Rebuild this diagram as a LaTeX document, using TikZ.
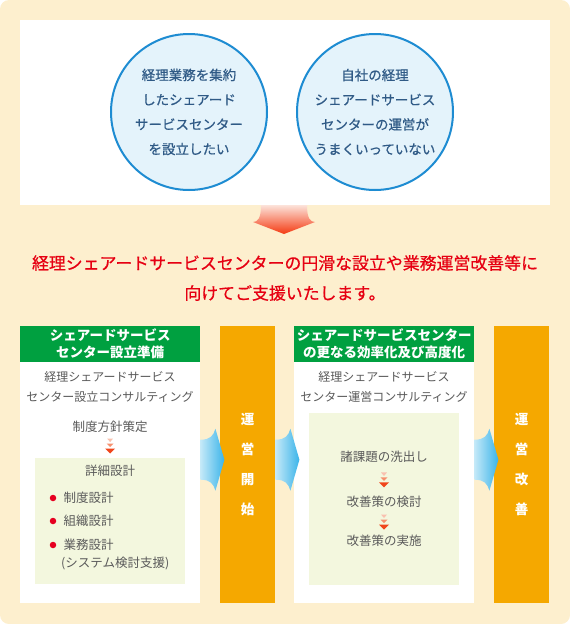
\documentclass[tikz,border=0pt]{standalone}
\usepackage{fontspec}
\setmainfont{Noto Sans CJK JP}
\newfontfamily\jpmid[FakeBold=0.6]{Noto Sans CJK JP}
\usepackage{tikz}
\usetikzlibrary{positioning,calc}
\usepackage{xcolor}
\definecolor{bgbeige}{HTML}{FDEFCE}
\definecolor{bubbleblue}{HTML}{1E8CD2}
\definecolor{bubblefill}{HTML}{E4F3FB}
\definecolor{bubbletext}{HTML}{2F5A86}
\definecolor{goalred}{HTML}{E60012}
\definecolor{headgreen}{HTML}{00A040}
\definecolor{barorange}{HTML}{F5A800}
\definecolor{boxgreen}{HTML}{F3F7DE}
\definecolor{txtgray}{HTML}{5A5A5A}
\definecolor{dotred}{HTML}{E60020}
\definecolor{arrowtop}{HTML}{FCE3DA}
\definecolor{arrowred}{HTML}{F43A12}
\definecolor{flowlight}{HTML}{C4E9F8}
\definecolor{flowblue}{HTML}{3BB4E9}
\definecolor{chevA}{HTML}{F9C1AF}
\definecolor{chevB}{HTML}{F6906E}
\definecolor{chevC}{HTML}{F0461C}

\begin{document}
\begin{tikzpicture}[x=1pt, y=-1pt,
					every node/.style={inner sep=0pt, text=txtgray, font=\fontsize{12.5}{20}\selectfont},
					bubble/.style={circle, draw=bubbleblue, line width=2pt, fill=bubblefill, minimum size=156pt,
						align=center, text=bubbletext, font=\jpmid\fontsize{13.5}{24.7}\selectfont},
					panel/.style={fill=white, minimum width=180pt, minimum height=277pt, anchor=north west},
					head/.style={fill=headgreen, anchor=north, minimum width=180pt, minimum height=36pt,
						align=center, text=white, font=\bfseries\fontsize{13.5}{17}\selectfont},
					title/.style={align=center, font=\fontsize{12}{20}\selectfont},
					subbox/.style={fill=boxgreen, minimum width=150pt, anchor=north west},
					bar/.style={fill=barorange, minimum width=55pt, minimum height=277pt, anchor=north west,
						align=center, text=white, font=\bfseries\fontsize{13.5}{30}\selectfont},
					dot/.style={circle, fill=dotred, minimum size=6.5pt}]
	% background and wishes
	\fill[bgbeige, rounded corners=9pt] (0,0) rectangle (570,624);
	\node[fill=white, minimum width=530pt, minimum height=185pt, anchor=north west] (wish) at (20,20) {};
	\node[bubble] (wishA) at (189,112) {経理業務を集約\\したシェアード\\サービスセンター\\を設立したい};
	\node[bubble] (wishB) at (375,112) {自社の経理\\シェアードサービス\\センターの運営が\\うまくいっていない};
	\shade[top color=arrowtop, bottom color=arrowred]
		(261,205) .. controls (261,218) and (258,222) .. (253,222) -- (284,234)
		-- (315,222) .. controls (310,222) and (307,218) .. (307,205) -- cycle;
	\node[align=center, text=goalred, font=\jpmid\fontsize{16.9}{30}\selectfont] (goal) at (285,278)
		{経理シェアードサービスセンターの円滑な設立や業務運営改善等に\\向けてご支援いたします。};
	% set-up phase
	\node[panel] (prep) at (20,326) {};
	\node[head] (prepHead) at (prep.north) {シェアードサービス\\センター設立準備};
	\node[title] (prepTitle) at (110,387) {経理シェアードサービス\\センター設立コンサルティング};
	\node (policy) at (110,427) {制度方針策定};
	\node[subbox, minimum height=126pt] (detail) at (35,458) {};
	\node (detailTitle) at (110,471) {詳細設計};
	\foreach \y/\t [count=\i] in {498/制度設計, 521/組織設計, 545/業務設計} {
		\node[dot] (dot\i) at (53,\y) {};
		\node[anchor=west, right=7pt of dot\i] (item\i) {\t};
	}
	\node[anchor=west] (itemNote) at (61,563) {(システム検討支援)};
	\node[bar] (start) at (220,326) {運\\営\\開\\始};
	% running phase
	\node[panel] (run) at (294,326) {};
	\node[head] (runHead) at (run.north) {シェアードサービスセンター\\の更なる効率化及び高度化};
	\node[title] (runTitle) at (384,387) {経理シェアードサービス\\センター運営コンサルティング};
	\node[subbox, minimum height=172pt] (improve) at (309,413) {};
	\node (stepA) at (384,457) {諸課題の洗出し};
	\node (stepB) at (384,502) {改善策の検討};
	\node (stepC) at (384,541) {改善策の実施};
	\node[bar] (better) at (494,326) {運\\営\\改\\善};
	% small chevrons
	\foreach \a/\b in {policy/detail, stepA/stepB, stepB/stepC} {
		\coordinate (chev) at ($(\a.south)!0.5!(\b.north)$);
		\begin{scope}[shift={(chev)}]
			\fill[chevA] (-3,-7) -- (3,-7) -- (0,-3.5) -- cycle;
			\fill[chevB] (-3.5,-2) -- (3.5,-2) -- (0,1.5) -- cycle;
			\fill[chevC] (-5,3) -- (5,3) -- (0,8) -- cycle;
		\end{scope}
	}
	% flow arrows
	\foreach \n in {prep, start, run} {
		\coordinate (tail) at ($(\n.east)+(0,-5)$);
		\shade[left color=flowlight, right color=flowblue, shift={(tail)}]
			(0,-20) .. controls (10,-20) and (13,-24) .. (15,-31) -- (24,0)
			-- (15,31) .. controls (13,24) and (10,20) .. (0,20) -- cycle;
	}
\end{tikzpicture}
\end{document}
